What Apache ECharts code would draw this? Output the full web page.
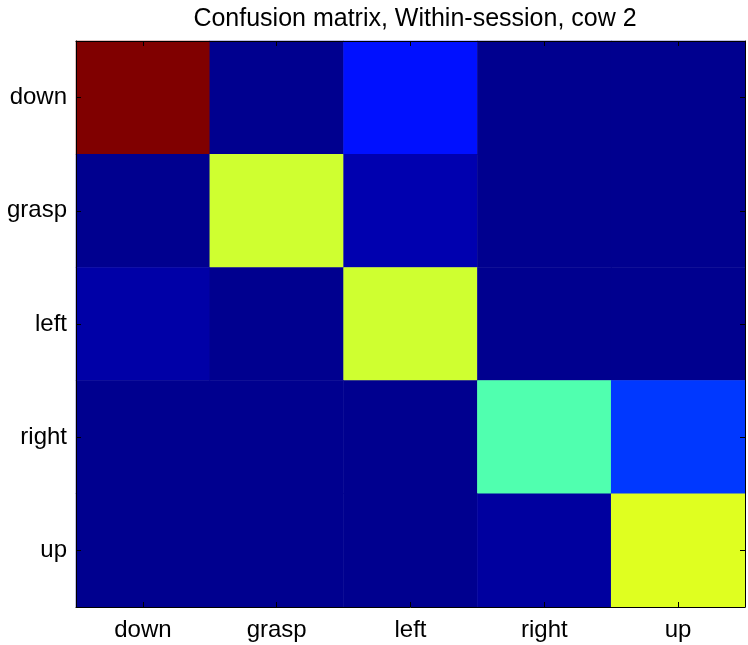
<!DOCTYPE html>
<html>
<head>
<meta charset="utf-8">
<script src="https://cdn.jsdelivr.net/npm/echarts@6/dist/echarts.min.js"></script>
<style>
  html, body { margin: 0; padding: 0; background: #fff; }
  #chart { width: 748px; height: 645px; }
</style>
</head>
<body>
<div id="chart"></div>
<script>
// Class labels (rows = true class, columns = predicted class)
const categories = ['down', 'grasp', 'left', 'right', 'up'];

// Confusion-matrix rows, normalised to the largest cell
const rowDown  = [1.000, 0.000, 0.127, 0.000, 0.000];
const rowGrasp = [0.000, 0.571, 0.032, 0.000, 0.000];
const rowLeft  = [0.024, 0.000, 0.571, 0.000, 0.000];
const rowRight = [0.000, 0.000, 0.000, 0.444, 0.167];
const rowUp    = [0.000, 0.000, 0.000, 0.016, 0.587];

const rows = [rowDown, rowGrasp, rowLeft, rowRight, rowUp];

// MATLAB jet(64) colormap
function jet(n) {
  const m = Math.ceil(n / 4);
  const u = [];
  for (let k = 1; k <= m; k++) u.push(k / m);
  for (let k = 1; k < m; k++) u.push(1);
  for (let k = m; k >= 1; k--) u.push(k / m);
  const g0 = Math.ceil(m / 2) - (n % 4 === 1 ? 1 : 0);
  const R = new Array(n).fill(0), G = new Array(n).fill(0), B = new Array(n).fill(0);
  u.forEach((val, idx) => {
    const gi = g0 + idx + 1;           // 1-based
    const ri = gi + m, bi = gi - m;
    if (gi >= 1 && gi <= n) G[gi - 1] = val;
    if (ri >= 1 && ri <= n) R[ri - 1] = val;
    if (bi >= 1 && bi <= n) B[bi - 1] = val;
  });
  const h = v => Math.round(v * 255).toString(16).padStart(2, '0');
  return R.map((r, i) => '#' + h(r) + h(G[i]) + h(B[i]));
}

const cells = [];
rows.forEach((row, r) => row.forEach((v, c) => cells.push([c, r, v])));

const font = 'Liberation Sans, Arial, Helvetica, sans-serif';
const axisLine = { show: true, onZero: false, lineStyle: { color: '#000', width: 1 } };
const tick = { show: true, inside: true, alignWithLabel: true, length: 5, lineStyle: { color: '#000', width: 1 } };

const chart = echarts.init(document.getElementById('chart'), null, { renderer: 'canvas' });
chart.setOption({
  animation: false,
  backgroundColor: '#fff',
  title: {
    text: 'Confusion matrix, Within-session, cow 2',
    left: 410, textAlign: 'center', top: 2,
    textStyle: { fontFamily: font, fontSize: 25, fontWeight: 'normal', color: '#000' }
  },
  grid: { left: 76, right: 3, top: 41, bottom: 38, containLabel: false },
  xAxis: [
    {
      type: 'category', data: categories, position: 'bottom', z: 10,
      axisLine: axisLine, axisTick: tick, splitLine: { show: false },
      axisLabel: { color: '#000', fontFamily: font, fontSize: 24, margin: 11 }
    },
    {
      type: 'category', data: categories, position: 'top', z: 10,
      axisLine: axisLine, axisTick: tick, axisLabel: { show: false }, splitLine: { show: false }
    }
  ],
  yAxis: [
    {
      type: 'category', data: categories, inverse: true, position: 'left', z: 10,
      axisLine: axisLine, axisTick: tick, splitLine: { show: false },
      axisLabel: { color: '#000', fontFamily: font, fontSize: 24, margin: 9 }
    },
    {
      type: 'category', data: categories, inverse: true, position: 'right', z: 10,
      axisLine: axisLine, axisTick: tick, axisLabel: { show: false }, splitLine: { show: false }
    }
  ],
  visualMap: {
    type: 'continuous', show: false, min: 0, max: 1, dimension: 2,
    inRange: { color: jet(64) }
  },
  series: [{
    type: 'heatmap',
    xAxisIndex: 0, yAxisIndex: 0,
    data: cells,
    itemStyle: { borderWidth: 0 },
    emphasis: { disabled: true }
  }]
});
</script>
</body>
</html>
